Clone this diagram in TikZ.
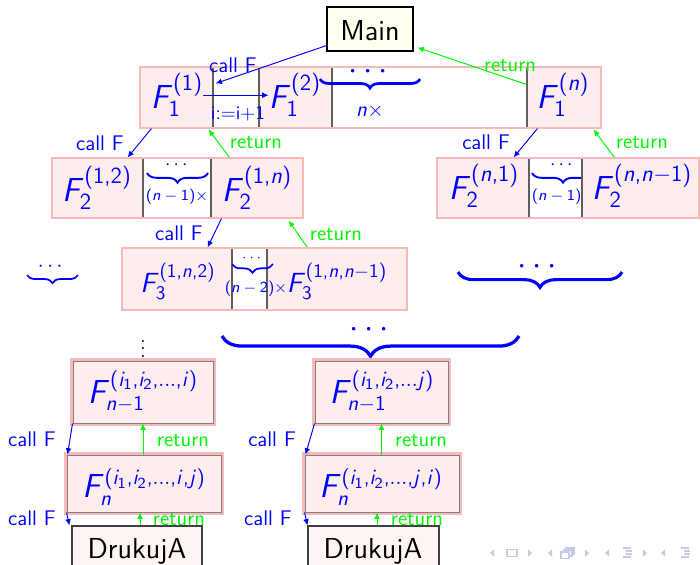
\documentclass[tikz,border=0pt]{standalone}
\usepackage{amsmath}
\usetikzlibrary{decorations.pathreplacing,fit,calc,arrows.meta}
\DeclareSymbolFont{sfop}{OT1}{cmss}{m}{n}
\DeclareSymbolFont{sfit}{OT1}{cmss}{m}{sl}
\DeclareMathSymbol{F}{\mathalpha}{sfit}{`F}
\DeclareMathSymbol{n}{\mathalpha}{sfit}{`n}
\DeclareMathSymbol{i}{\mathalpha}{sfit}{`i}
\DeclareMathSymbol{j}{\mathalpha}{sfit}{`j}
\DeclareMathSymbol{1}{\mathalpha}{sfop}{`1}
\DeclareMathSymbol{2}{\mathalpha}{sfop}{`2}
\DeclareMathSymbol{3}{\mathalpha}{sfop}{`3}
\DeclareMathSymbol{(}{\mathopen}{sfop}{"28}
\DeclareMathSymbol{)}{\mathclose}{sfop}{"29}
\DeclareMathSymbol{,}{\mathpunct}{sfop}{"2C}
\definecolor{cellfill}{RGB}{253,237,237}
\definecolor{boxpink}{RGB}{250,185,185}
\definecolor{sepgray}{RGB}{95,95,95}
\definecolor{mainfill}{RGB}{255,255,240}
\definecolor{navc}{RGB}{200,200,235}
\definecolor{callblue}{RGB}{0,0,255}
\definecolor{retgreen}{RGB}{0,245,0}
\newcommand{\fsz}[1]{\fontsize{#1}{#1}\selectfont}
\begin{document}
\begin{tikzpicture}[x=0.52pt,y=-0.52pt,
  cell/.style={fill=cellfill, draw=sepgray, line width=0.6pt, inner sep=0pt},
  pcell/.style={fill=cellfill, draw=black!50, line width=0.5pt, inner sep=0pt, preaction={draw=boxpink, line width=2.8pt}},
  dcell/.style={fill=cellfill!60, draw=black!75, line width=0.6pt, inner sep=0pt},
  mainbox/.style={fill=mainfill, draw=black, line width=0.6pt, inner sep=0pt},
  outerbox/.style={draw=boxpink, line width=1.4pt, inner sep=0pt},
  ftext/.style={text=callblue, anchor=base, inner sep=0pt},
  bigtext/.style={text=black, anchor=base, inner sep=0pt, font=\sffamily\fsz{15}},
  lbl/.style={font=\sffamily\fsz{11}, anchor=base, inner sep=0pt},
  calllbl/.style={lbl, text=callblue},
  retlbl/.style={lbl, text=retgreen},
  dots/.style={text=callblue, inner sep=0pt},
  callarr/.style={draw=callblue, line width=0.5pt, -{Latex[length=3.3pt,width=3pt]}},
  retarr/.style={draw=retgreen, line width=0.5pt, -{Latex[length=3.3pt,width=3pt]}},
  brc/.style={draw=callblue, decorate, decoration={brace, mirror, amplitude=#1}},
]
\path[use as bounding box] (0,0) rectangle (700,564);
\fill[white] (0,0) rectangle (700,564);
\clip (0,0) rectangle (700,564);

% Main
\node[mainbox, fit={(327,7)(413,51)}] (main) {};
\node[bigtext] (maint) at (370,40) {Main};

% Row 1
\node[cell, fit={(140,67)(213,128)}] (c11) {};
\node[cell, fit={(259,67)(332,128)}] (c12) {};
\node[cell, fit={(527,67)(601,128)}] (c1n) {};
\node[outerbox, fit={(140,67)(601,128)}] (r1) {};
\draw[brc=4.7pt, line width=1.4pt] (320,79) -- (420,79);
\node[dots, font=\fsz{16}] (dt1) at (371,72) {$\cdots$};
\node[dots, font=\fsz{11}] (nx1) at (370,111) {$n\times$};
\node[ftext, font=\fsz{17}] (t11) at (177,108) {$F_1^{(1)}$};
\node[ftext, font=\fsz{17}] (t12) at (295,108) {$F_1^{(2)}$};
\node[ftext, font=\fsz{17}] (t1n) at (563,108) {$F_1^{(n)}$};

% Row 2 left
\node[cell, fit={(52,158)(143,218)}] (c21) {};
\node[cell, fit={(211,158)(303,218)}] (c22) {};
\node[outerbox, fit={(52,158)(303,218)}] (r2) {};
\draw[brc=5pt, line width=1pt] (147,173) -- (208,173);
\node[dots, font=\fsz{10}] (dt2) at (178,165) {$\cdots$};
\node[dots, font=\fsz{8}] (nx2) at (177,197) {$(n-1)\times$};
\node[ftext, font=\fsz{17}] (t21) at (97,201) {$F_2^{(1,2)}$};
\node[ftext, font=\fsz{17}] (t22) at (257,201) {$F_2^{(1,n)}$};

% Row 2 right
\node[cell, fit={(437,158)(529,218)}] (c2r1) {};
\draw[brc=5pt, line width=1pt] (532,173) -- (594,173);
\node[dots, font=\fsz{10}] (dt3) at (563,165) {$\cdots$};
\node[dots, font=\fsz{8}] (nx3) at (563,197) {$(n-1)\times$};
\node[cell, fit={(582,158)(699,218)}] (c2r2) {};
\node[outerbox, fit={(437,158)(699,218)}] (r2r) {};
\node[ftext, font=\fsz{17}] (t2r1) at (484,199) {$F_2^{(n,1)}$};
\node[ftext, font=\fsz{17}] (t2r2) at (642,199) {$F_2^{(n,n-1)}$};

% Row 3
\node[cell, fit={(122,248)(232,310)}] (c31) {};
\node[cell, fit={(267,248)(407,310)}] (c32) {};
\node[outerbox, fit={(122,248)(407,310)}] (r3) {};
\node[ftext, font=\fsz{14.5}] (t31) at (178,292) {$F_3^{(1,n,2)}$};
\node[ftext, font=\fsz{14.5}] (t32) at (337,292) {$F_3^{(1,n,n-1)}$};
\draw[brc=4.5pt, line width=0.9pt] (232,264) -- (273,264);
\node[dots, font=\fsz{7}] (dt4) at (253,258) {$\cdots$};
\node[dots, font=\fsz{8}] (nx4) at (256,289) {$(n-2)\times$};

% side braces
\draw[brc=4.2pt, line width=0.9pt] (27,275) -- (78,275);
\node[dots, font=\fsz{11}] (dt5) at (52,267) {$\cdots$};
\draw[brc=8pt, line width=1.6pt] (458,272) -- (622,272);
\node[dots, font=\fsz{17}] (dt6) at (540,267) {$\cdots$};
\draw[brc=10.5pt, line width=1.7pt] (222,336) -- (519,336);
\node[dots, font=\fsz{17}] (dt7) at (372,330) {$\cdots$};
\node[text=black, font=\fsz{11}, inner sep=0pt] (vd) at (143,343) {$\vdots$};

% Bottom rows
\node[pcell, fit={(73,361)(213,423)}] (b1) {};
\node[pcell, fit={(315,361)(448,423)}] (b2) {};
\node[pcell, fit={(67,455)(221,512)}] (b3) {};
\node[pcell, fit={(305,455)(459,512)}] (b4) {};
\node[dcell, fit={(72,526)(202,580)}] (d1) {};
\node[dcell, fit={(308,526)(439,580)}] (d2) {};
\node[ftext, font=\fsz{16}] (tb1) at (143,403) {$F_{n-1}^{(i_1,i_2,\ldots,i)}$};
\node[ftext, font=\fsz{16}] (tb2) at (382,403) {$F_{n-1}^{(i_1,i_2,\ldots j)}$};
\node[ftext, font=\fsz{16}] (tb3) at (144,497) {$F_n^{(i_1,i_2,\ldots,i,j)}$};
\node[ftext, font=\fsz{16}] (tb4) at (381,497) {$F_n^{(i_1,i_2,\ldots,j,i)}$};
\node[bigtext] (td1) at (137,558) {DrukujA};
\node[bigtext] (td2) at (373,558) {DrukujA};

% Arrows
\draw[callarr] ($(main.south west)+(0,-6)$) -- ($(c11.north east)+(2,17)$);
\draw[retarr] ($(c1n.north west)+(0,18)$) -- ($(main.south east)+(4,-4)$);
\draw[callarr] (t11.east) -- (t12.west);
\draw[callarr] ($(c11.south west)+(12,0)$) -- ($(c21.north east)+(-16,0)$);
\draw[retarr] ($(c22.north west)+(19,0)$) -- ($(c11.south east)+(-5,1)$);
\draw[callarr] ($(c1n.south west)+(11,0)$) -- ($(c2r1.north east)+(-16,0)$);
\draw[retarr] ($(c2r2.north west)+(33,0)$) -- ($(c1n.south east)+(-8,1)$);
\draw[callarr] ($(c22.south west)+(11,0)$) -- ($(c31.north east)+(-25,0)$);
\draw[retarr] ($(c32.north west)+(41,0)$) -- ($(c22.south east)+(-15,2)$);

\draw[callarr] (b1.south west) -- ($(b3.north west)+(1,0)$);
\draw[retarr] (b1.south |- b3.north) -- (b1.south);
\draw[callarr] (b3.south west) -- ($(d1.north west)+(-2,0)$);
\coordinate (rb1) at ($(d1.north)+(3,0)$);
\draw[retarr] (rb1) -- (rb1 |- b3.south);
\draw[callarr] (b2.south west) -- ($(b4.north west)+(1,0)$);
\draw[retarr] (b2.south |- b4.north) -- (b2.south);
\draw[callarr] (b4.south west) -- (d2.north west);
\coordinate (rb2) at ($(d2.north)+(3.5,0)$);
\draw[retarr] (rb2) -- (rb2 |- b4.south);

% Labels
\node[calllbl] (l1) at (233,72) {call F};
\node[retlbl] (l2) at (510,71) {return};
\node[calllbl, font=\sffamily\fsz{10}] (l3) at (238,119) {i:=i+1};
\node[calllbl] (l4) at (100,150) {call F};
\node[retlbl] (l5) at (256,148) {return};
\node[calllbl] (l6) at (486,149) {call F};
\node[retlbl] (l7) at (642,148) {return};
\node[calllbl] (l8) at (179,240) {call F};
\node[retlbl] (l9) at (336,240) {return};
\node[calllbl] (l10) at (32,446) {call F};
\node[retlbl] (l11) at (183,446) {return};
\node[calllbl] (l12) at (32,525) {call F};
\node[retlbl] (l13) at (179,525) {return};
\node[calllbl] (l14) at (272,446) {call F};
\node[retlbl] (l15) at (421,446) {return};
\node[calllbl] (l16) at (268,525) {call F};
\node[retlbl] (l17) at (417,525) {return};

% Navigation symbols
\foreach \x in {492,550,607,663} \fill[navc] (\x+2,549.5) -- (\x-2,553) -- (\x+2,556.5) -- cycle;
\foreach \x in {530,587,645} \fill[navc] (\x-2,549.5) -- (\x+2,553) -- (\x-2,556.5) -- cycle;
\draw[navc, line width=0.6pt] (507,549.5) rectangle (517,556.5);
\draw[navc, line width=0.6pt, fill=white] (566,548) rectangle (574,554);
\draw[navc, line width=0.6pt, fill=white] (564,550) rectangle (572,556);
\draw[navc, line width=0.6pt, fill=white] (561,552) rectangle (569,558.5);
\foreach \y/\a/\b in {548/623/631, 551/626/632, 554/626/632, 557/623/631}
  \draw[navc, line width=0.6pt] (\a,\y) -- (\b,\y);
\foreach \y/\a/\b in {548/681/689, 551/684/690, 554/684/690, 557/681/689}
  \draw[navc, line width=0.6pt] (\a,\y) -- (\b,\y);
\end{tikzpicture}
\end{document}
